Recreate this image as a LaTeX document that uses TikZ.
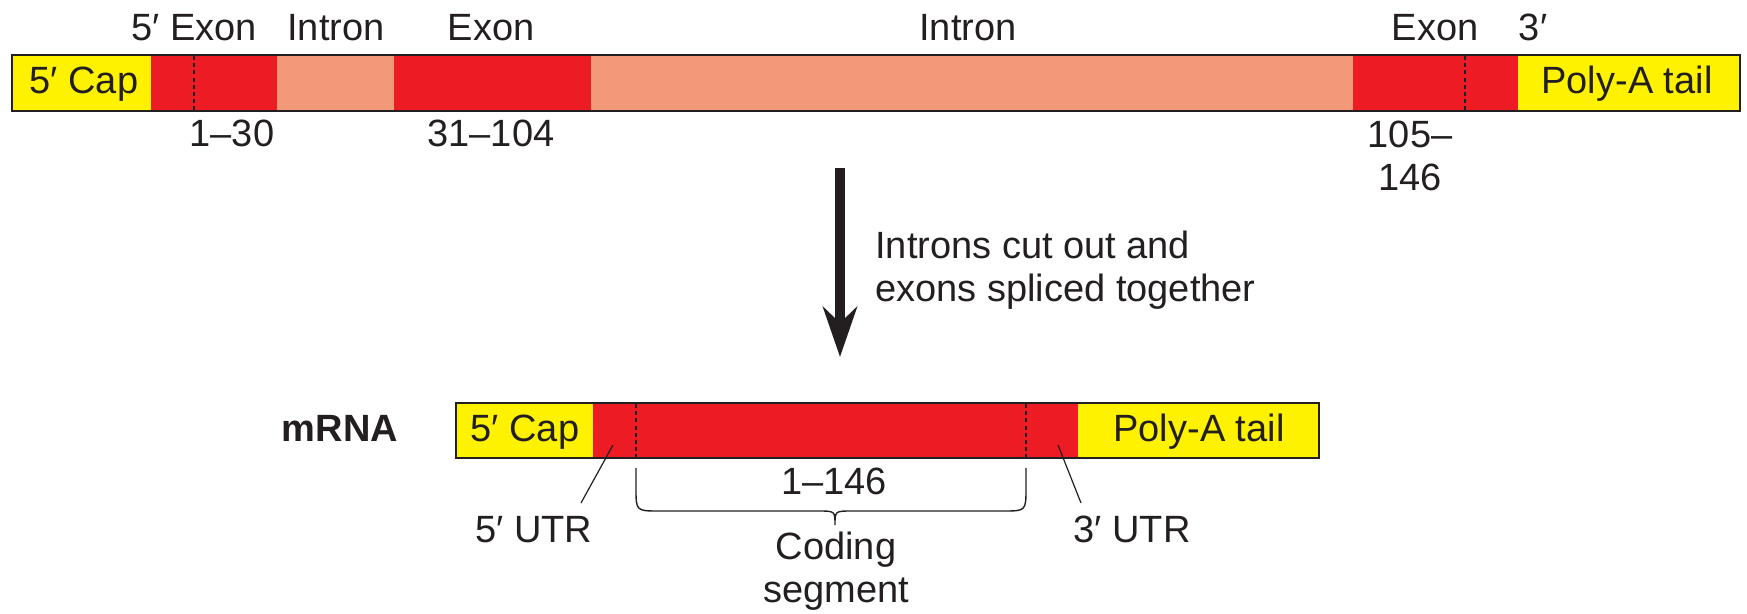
\documentclass[tikz,border=0pt]{standalone}
\usepackage{fontspec}
\setmainfont{Liberation Sans}
\usetikzlibrary{arrows.meta}
\definecolor{capyellow}{HTML}{FFF200}
\definecolor{exonred}{HTML}{ED1C24}
\definecolor{intronpink}{HTML}{F4987A}
\definecolor{ink}{HTML}{231F20}
\tikzset{
  lbl/.style={font=\fontsize{19}{21.5}\selectfont, text=ink, inner sep=0pt},
  boldlbl/.style={font=\fontsize{19}{21.5}\selectfont\bfseries, text=ink, inner sep=0pt},
  outline/.style={draw=ink, line width=1pt},
  splitline/.style={draw=ink, line width=0.7pt, dash pattern=on 2pt off 1.6pt},
  pointer/.style={draw=ink, line width=0.6pt},
  bracestyle/.style={draw=ink, line width=0.7pt},
  bigarrow/.style={draw=ink, line width=5pt, -{Stealth[length=25pt,width=17pt,inset=8pt]}}
}
\begin{document}
\begin{tikzpicture}[x=0.5pt,y=-0.5pt]
\useasboundingbox (0,0) rectangle (1747,614);

% ---------- pre-mRNA bar ----------
\fill[capyellow]  (12,55)   rectangle (151,111);
\fill[exonred]    (151,55)  rectangle (277,111);
\fill[intronpink] (277,55)  rectangle (394,111);
\fill[exonred]    (394,55)  rectangle (591,111);
\fill[intronpink] (591,55)  rectangle (1353,111);
\fill[exonred]    (1353,55) rectangle (1518,111);
\fill[capyellow]  (1518,55) rectangle (1740,111);
\draw[splitline] (194,56) -- (194,110);
\draw[splitline] (1465,56) -- (1465,110);
\draw[outline] (12,55) rectangle (1740,111);

\node[lbl, anchor=base] (capA) at (84,94) {5′ Cap};
\node[lbl, anchor=base] (polyA) at (1627,94) {Poly-A tail};

% labels above
\node[lbl, anchor=base west] (exon1) at (131,41) {5′ Exon};
\node[lbl, anchor=base] (intron1) at (336,41) {Intron};
\node[lbl, anchor=base] (exon2) at (491,41) {Exon};
\node[lbl, anchor=base] (intron2) at (968,41) {Intron};
\node[lbl, anchor=base] (exon3) at (1435,41) {Exon};
\node[lbl, anchor=base] (end3) at (1533,41) {3′};

% labels below
\node[lbl, anchor=base] (num1) at (232,147) {1–30};
\node[lbl, anchor=base] (num2) at (491,147) {31–104};
\node[lbl, anchor=north, align=center] (num3) at (1410,121) {105–\\146};

% ---------- splicing arrow ----------
\coordinate (arrTop) at (840,168);
\coordinate (arrTip) at (840,357);
\draw[bigarrow] (arrTop) -- (arrTip);
\node[lbl, anchor=north west, align=left] (splice) at (875,231)
  {Introns cut out and\\exons spliced together};

% ---------- mRNA bar ----------
\fill[capyellow] (456,403)  rectangle (593,458);
\fill[exonred]   (593,403)  rectangle (1078,458);
\fill[capyellow] (1078,403) rectangle (1319,458);
\draw[splitline] (636,404) -- (636,457);
\draw[splitline] (1026,404) -- (1026,457);
\draw[outline] (456,403) rectangle (1319,458);

\node[boldlbl, anchor=base] (mrna) at (340,442) {mRNA};
\node[lbl, anchor=base] (capB) at (525,442) {5′ Cap};
\node[lbl, anchor=base] (polyB) at (1199,442) {Poly-A tail};

% UTR pointers
\node[lbl, anchor=base] (utr5) at (534,543) {5′ UTR};
\node[lbl, anchor=base] (utr3) at (1132,543) {3′ UTR};
\coordinate (utr5a) at (613,445);
\coordinate (utr5b) at (581,503);
\coordinate (utr3a) at (1058,445);
\coordinate (utr3b) at (1081,503);
\draw[pointer] (utr5a) -- (utr5b);
\draw[pointer] (utr3a) -- (utr3b);

% coding segment brace
\node[lbl, anchor=base] (num146) at (834,495) {1–146};
\draw[bracestyle] (636,468) -- (636,488) .. controls (636,511) .. (659,511)
  -- (818,511) .. controls (835,511) .. (835,525)
  .. controls (835,511) .. (852,511) -- (1003,511)
  .. controls (1026,511) .. (1026,488) -- (1026,468);
\node[lbl, anchor=north, align=center] (coding) at (836,532) {Coding\\segment};
\end{tikzpicture}
\end{document}
